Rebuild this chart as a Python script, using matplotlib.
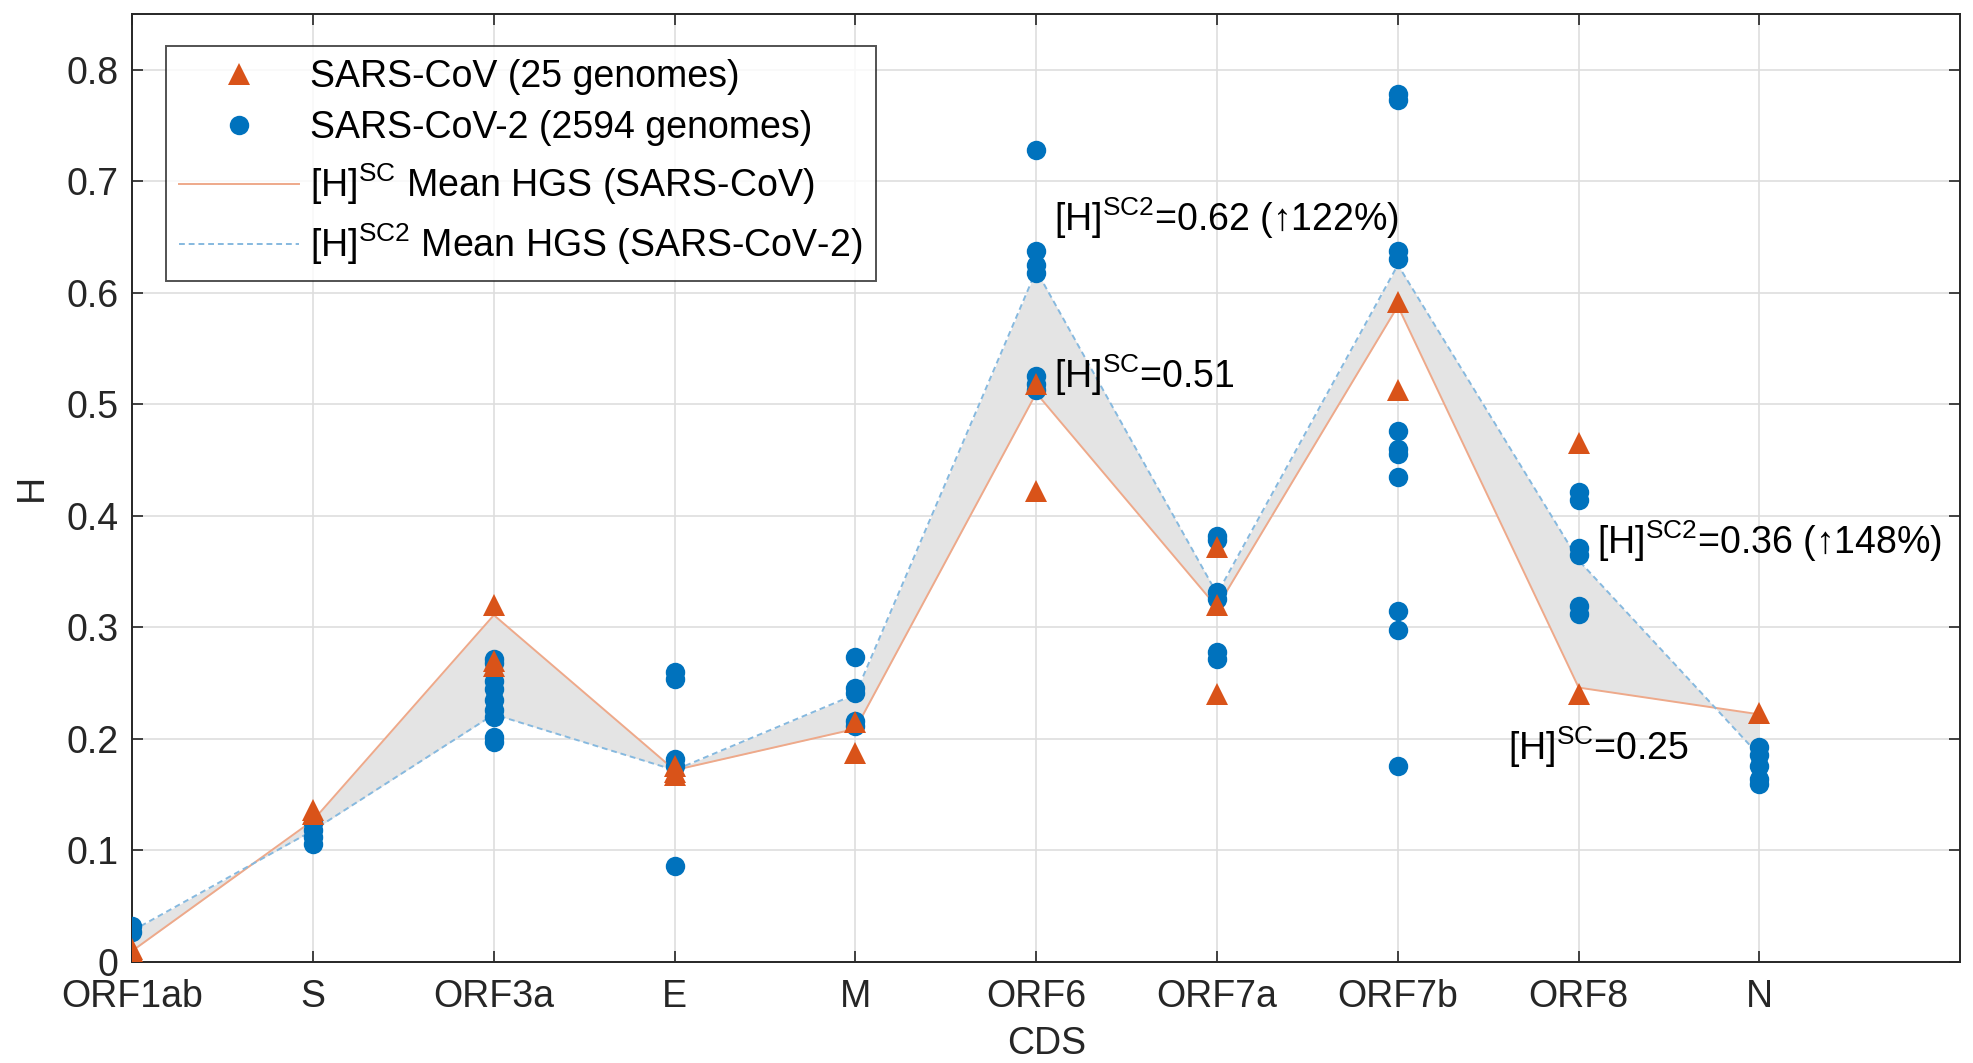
import numpy as np
import matplotlib
matplotlib.use("Agg")
import matplotlib.pyplot as plt
from matplotlib.lines import Line2D

plt.rcParams['font.family'] = ['Liberation Sans', 'DejaVu Sans']
plt.rcParams['mathtext.fontset'] = 'custom'
plt.rcParams['mathtext.rm'] = 'Liberation Sans'
plt.rcParams['mathtext.it'] = 'Liberation Sans:italic'
plt.rcParams['mathtext.bf'] = 'Liberation Sans:bold'

# coding sequences on the x axis
cds = ['ORF1ab', 'S', 'ORF3a', 'E', 'M', 'ORF6', 'ORF7a', 'ORF7b', 'ORF8', 'N']

# H values per CDS, SARS-CoV (triangles)
sc_points = [
    [0.010, 0.012],
    [0.133, 0.136],
    [0.320, 0.270, 0.265],
    [0.170, 0.176, 0.168],
    [0.215, 0.187],
    [0.518, 0.422],
    [0.372, 0.320, 0.240],
    [0.592, 0.513],
    [0.465, 0.240],
    [0.223],
]

# H values per CDS, SARS-CoV-2 (circles)
sc2_points = [
    [0.032, 0.027],
    [0.125, 0.118, 0.112, 0.106],
    [0.272, 0.268, 0.252, 0.245, 0.235, 0.226, 0.220, 0.202, 0.197],
    [0.260, 0.254, 0.182, 0.176, 0.086],
    [0.273, 0.246, 0.241, 0.216, 0.212],
    [0.728, 0.637, 0.625, 0.618, 0.525, 0.518, 0.513],
    [0.382, 0.378, 0.332, 0.325, 0.278, 0.272],
    [0.778, 0.773, 0.637, 0.630, 0.476, 0.460, 0.455, 0.435, 0.315, 0.298, 0.176],
    [0.421, 0.414, 0.371, 0.365, 0.319, 0.312],
    [0.193, 0.186, 0.176, 0.164, 0.160],
]

# mean HGS lines
sc_mean = [0.010, 0.127, 0.311, 0.172, 0.209, 0.510, 0.318, 0.588, 0.246, 0.222]
sc2_mean = [0.028, 0.118, 0.222, 0.172, 0.240, 0.620, 0.330, 0.625, 0.360, 0.185]

# annotations (x, y, text)
notes = [
    (6.10, 0.655, r'[H]$^{\mathrm{SC2}}$=0.62 (↑122%)'),
    (6.10, 0.515, r'[H]$^{\mathrm{SC}}$=0.51'),
    (9.10, 0.366, r'[H]$^{\mathrm{SC2}}$=0.36 (↑148%)'),
    (8.61, 0.181, r'[H]$^{\mathrm{SC}}$=0.25'),
]

blue = '#0072BD'
orange = '#D95319'
fs = 13.5
dark = '#262626'
ms_c = 7.0
ms_t = 7.6

fig = plt.figure(figsize=(9.87, 5.315), dpi=200)
ax = fig.add_axes([0.067, 0.095, 0.926, 0.892])

x = np.arange(1, len(cds) + 1)

ax.fill_between(x, sc_mean, sc2_mean, color='#e4e4e4', zorder=1, linewidth=0)
ax.plot(x, sc_mean, '-', color='#eea98a', linewidth=0.7, zorder=2)
ax.plot(x, sc2_mean, '--', color='#86b9df', linewidth=0.7, dashes=(3, 2), zorder=2)

for i in range(len(cds)):
    ax.plot([x[i]] * len(sc2_points[i]), sc2_points[i], 'o', color=blue,
            markersize=ms_c, markeredgewidth=0, zorder=3)
for i in range(len(cds)):
    ax.plot([x[i]] * len(sc_points[i]), sc_points[i], '^', color=orange,
            markersize=ms_t, markeredgewidth=0, zorder=4)

for tx, ty, s in notes:
    ax.text(tx, ty, s, fontsize=fs, color='black', ha='left', va='baseline', zorder=5)

ax.set_xlim(1, 11.11)
ax.set_ylim(0, 0.85)
ax.set_xticks(x)
ax.set_xticklabels(cds)
yt = [0, 0.1, 0.2, 0.3, 0.4, 0.5, 0.6, 0.7, 0.8]
ax.set_yticks(yt)
ax.set_yticklabels(['0', '0.1', '0.2', '0.3', '0.4', '0.5', '0.6', '0.7', '0.8'])
ax.tick_params(direction='in', length=4, width=0.6, colors=dark, labelsize=fs,
               top=True, right=True, pad=5)
ax.tick_params(axis='x', pad=6)
for lab in ax.get_yticklabels():
    lab.set_verticalalignment('center_baseline')
ax.grid(True, color='#dedede', linewidth=0.6, zorder=0)
ax.set_axisbelow(True)
for sp in ax.spines.values():
    sp.set_color(dark)
    sp.set_linewidth(0.7)

ax.set_xlabel('CDS', fontsize=fs, color=dark, labelpad=4)
ax.set_ylabel('H', fontsize=fs, color=dark, labelpad=6)

handles = [
    Line2D([], [], linestyle='none', marker='^', color=orange, markersize=ms_t, markeredgewidth=0),
    Line2D([], [], linestyle='none', marker='o', color=blue, markersize=ms_c, markeredgewidth=0),
    Line2D([], [], linestyle='-', color='#eea98a', linewidth=0.7),
    Line2D([], [], linestyle='--', color='#86b9df', linewidth=0.7, dashes=(3, 2)),
]
labels = [
    'SARS-CoV (25 genomes)',
    'SARS-CoV-2 (2594 genomes)',
    r'[H]$^{\mathrm{SC}}$ Mean HGS (SARS-CoV)',
    r'[H]$^{\mathrm{SC2}}$ Mean HGS (SARS-CoV-2)',
]
leg = ax.legend(handles, labels, loc='upper left', bbox_to_anchor=(0.0185, 0.966),
                borderaxespad=0, fontsize=fs, frameon=True, fancybox=False,
                handlelength=3.2, handletextpad=0.3, labelspacing=0.4,
                borderpad=0.35)
leg.get_frame().set_edgecolor(dark)
leg.get_frame().set_linewidth(0.7)
leg.set_zorder(6)

fig.savefig('out.png', dpi=200)
